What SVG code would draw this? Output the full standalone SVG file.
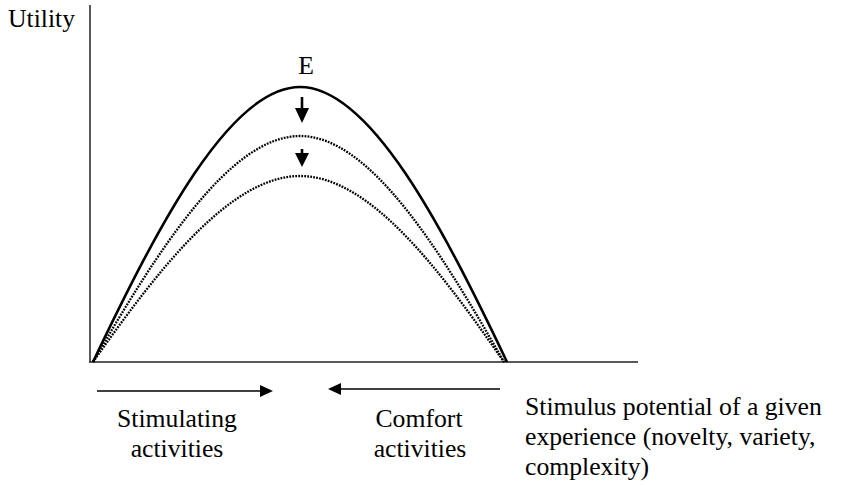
<svg xmlns="http://www.w3.org/2000/svg" width="841" height="486" viewBox="0 0 841 486">
<style>
text{font-family:"Liberation Serif","Times New Roman",serif;font-size:25.7px;fill:#000}
.axis{stroke:#222;stroke-width:1.5;fill:none}
.solid{stroke:#000;stroke-width:2.6;fill:none}
.dot{stroke:#000;stroke-width:2.3;fill:none;stroke-dasharray:1.8 1.2}
.arr{stroke:#000;stroke-width:1.4;fill:none}
</style>
<rect width="841" height="486" fill="#fff"/>
<g id="axes">
<line class="axis" x1="90" y1="5" x2="90" y2="362"/>
<line class="axis" x1="89" y1="362" x2="638" y2="362"/>
<text x="8" y="27">Utility</text>
</g>
<g id="curves">
<path class="solid" d="M93,362 C158,225.5 230,87 300,87 C370,87 442,225.5 507,362"/>
<path class="dot" d="M93,362 C158,250 230,136 300,136 C370,136 440,250 504,362"/>
<path class="dot" d="M93,362 C158,270 230,176 300,176 C370,176 440,270 504,362"/>
<text x="306" y="74" text-anchor="middle">E</text>
</g>
<g id="connectors">
<line x1="302" y1="97" x2="302" y2="110" stroke="#000" stroke-width="2.6"/>
<polygon points="295,108 309,108 302,123" fill="#000"/>
<line x1="302" y1="149" x2="302" y2="155" stroke="#000" stroke-width="2.6"/>
<polygon points="295,153 309,153 302,167" fill="#000"/>
<line class="arr" x1="97" y1="391" x2="262" y2="391"/>
<polygon points="260,385 273,391 260,397" fill="#000"/>
<line class="arr" x1="500" y1="389" x2="339" y2="389"/>
<polygon points="341,383 328,389 341,395" fill="#000"/>
</g>
<g id="labels">
<text x="177" y="427" text-anchor="middle">Stimulating</text>
<text x="177" y="457" text-anchor="middle">activities</text>
<text x="419" y="427" text-anchor="middle">Comfort</text>
<text x="420" y="457" text-anchor="middle">activities</text>
<text x="525" y="415">Stimulus potential of a given</text>
<text x="525" y="445">experience (novelty, variety,</text>
<text x="525" y="475">complexity)</text>
</g>
</svg>
